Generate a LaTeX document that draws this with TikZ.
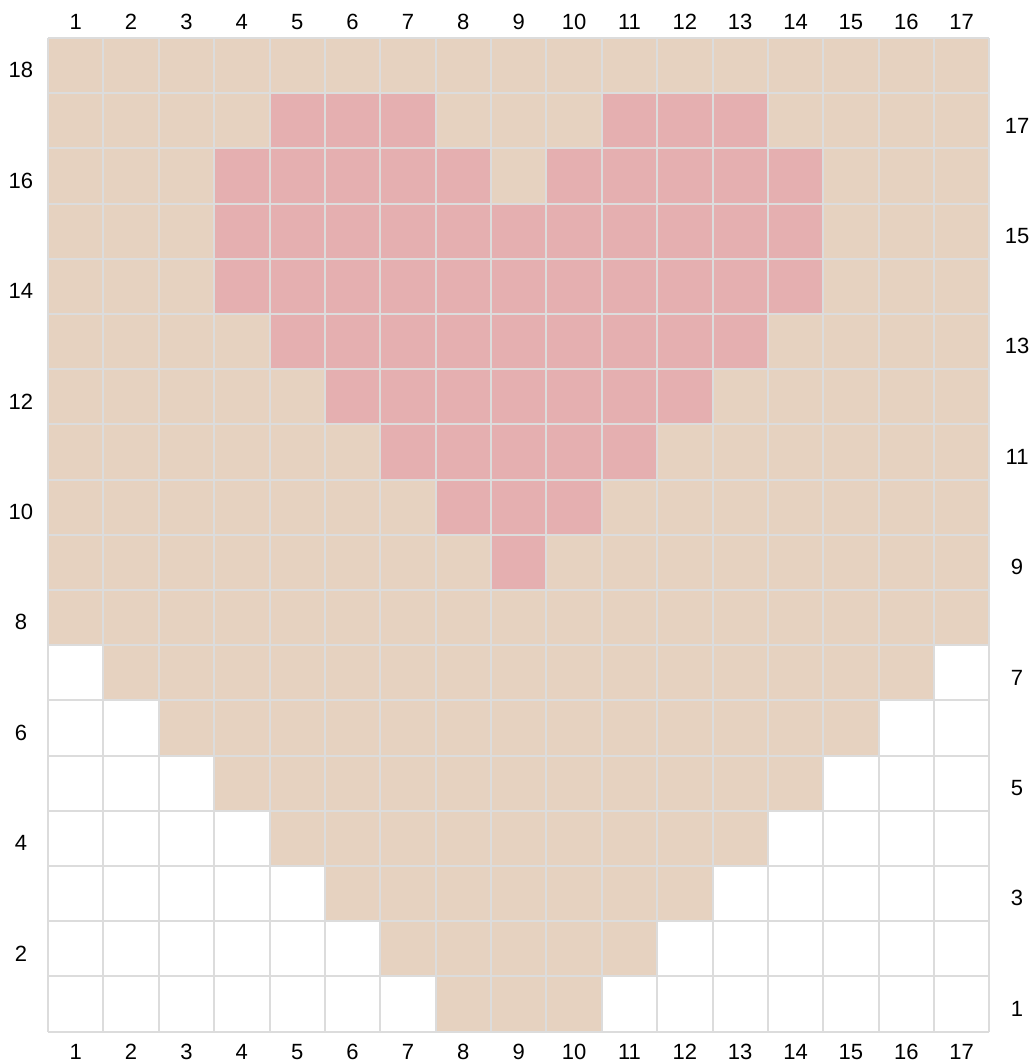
\documentclass[tikz,border=0pt]{standalone}
\usepackage{fontspec}
\setmainfont{Liberation Sans}
\usepackage{xcolor}
\definecolor{woolbeige}{HTML}{E6D2C0}
\definecolor{woolpink}{HTML}{E5AFB0}
\definecolor{gridgray}{HTML}{DCDCDC}
\begin{document}
\begin{tikzpicture}[
    x=41.51pt, y=41.38pt,
    base/.style = {fill=woolbeige},
    heart/.style = {fill=woolpink},
    gridline/.style = {draw=gridgray, line width=1.5pt},
    num/.style = {font=\fontsize{16.5}{19}\selectfont, inner sep=0pt, text height=11.8pt, text depth=0pt}
]
\useasboundingbox (-0.867,-0.567) rectangle (17.759,18.689);

% Base colour
\foreach \r/\a/\b in {1/8/10, 2/7/11, 3/6/12, 4/5/13, 5/4/14, 6/3/15, 7/2/16}
    \fill [base] (\a-1, \r-1) rectangle (\b, \r);
\fill [base] (0, 7) rectangle (17, 18);

% Heart
\foreach \r/\a/\b in {9/9/9, 10/8/10, 11/7/11, 12/6/12, 13/5/13, 14/4/14, 15/4/14,
                      16/4/8, 16/10/14, 17/5/7, 17/11/13}
    \fill [heart] (\a-1, \r-1) rectangle (\b, \r);

% Grid
\foreach \c in {0,...,17}
    \draw [gridline] (\c, 0) -- (\c, 18);
\foreach \r in {0,...,18}
    \draw [gridline] (0, \r) -- (17, \r);

% Column numbers
\foreach \c in {1,...,17} {
    \node (top-\c) [num] at (\c-0.5, 18.3) {\c};
    \node (bottom-\c) [num] at (\c-0.5, -0.37) {\c};
}

% Row numbers
\foreach \r in {2,4,...,18}
    \node (left-\r) [num] at (-0.49, \r-0.58) {\r};
\foreach \r in {1,3,...,17}
    \node (right-\r) [num] at (17.5, \r-0.58) {\r};

\end{tikzpicture}
\end{document}
